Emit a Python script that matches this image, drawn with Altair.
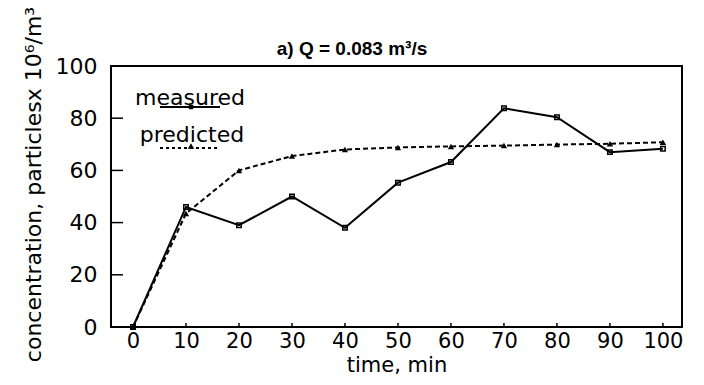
import altair as alt
import pandas as pd

time_min = [0, 10, 20, 30, 40, 50, 60, 70, 80, 90, 100]
measured = [0, 46, 39, 50, 38, 55.3, 63.2, 83.8, 80.4, 67.0, 68.3]
predicted = [0, 43.5, 60, 65.5, 68, 68.8, 69.2, 69.5, 69.9, 70.2, 70.8]
x_ticks = [0, 10, 20, 30, 40, 50, 60, 70, 80, 90, 100]
y_ticks = [0, 20, 40, 60, 80, 100]
title_text = ["a) Q = 0.083 m³/s"]

W, H = 571, 261
FONT = "DejaVu Sans"

df_m = pd.DataFrame({"t": time_min, "c": measured})
df_p = pd.DataFrame({"t": time_min, "c": predicted})

xs = alt.Scale(domain=[-4.15, 103.6], nice=False, zero=False)
ys = alt.Scale(domain=[0, 100], nice=False)

xax = alt.Axis(values=x_ticks, ticks=False, domain=False, grid=False,
               labelFontSize=21, labelFont=FONT, labelPadding=3, labelColor="black",
               labelFontWeight="normal",
               title="time, min", titleFontSize=21, titleFont=FONT,
               titleFontWeight="normal", titleColor="black", titlePadding=3)
yax = alt.Axis(values=y_ticks, ticks=False, domain=False, grid=False,
               labelFontSize=22, labelFont=FONT, labelPadding=14, labelColor="black",
               title="concentration,  particlesx 10⁶/m³", titleFontSize=22,
               titleFont=FONT, titleFontWeight="normal", titleColor="black",
               titleAngle=270, titleAlign="center", titleBaseline="middle",
               titleX=-78, titleY=118)

base_m = alt.Chart(df_m).encode(x=alt.X("t:Q", scale=xs, axis=xax),
                                y=alt.Y("c:Q", scale=ys, axis=yax))
line_m = base_m.mark_line(color="black", strokeWidth=2)
pts_m = base_m.mark_point(shape="square", size=20, filled=False, color="black",
                          strokeWidth=1.5, opacity=1)

base_p = alt.Chart(df_p).encode(x=alt.X("t:Q", scale=xs), y=alt.Y("c:Q", scale=ys))
line_p = base_p.mark_line(color="black", strokeWidth=2, strokeDash=[5, 3])
pts_p = base_p.mark_point(shape="triangle-up", size=40, filled=True, color="black",
                          opacity=1)

# inward tick marks
ytick_df = pd.DataFrame({"v": y_ticks[1:-1]})
yticks = alt.Chart(ytick_df).mark_rule(color="black", strokeWidth=1.5).encode(
    y=alt.Y("v:Q", scale=ys), x=alt.value(0), x2=alt.value(12))
xtick_df = pd.DataFrame({"v": x_ticks[1:]})
xticks = alt.Chart(xtick_df).mark_rule(color="black", strokeWidth=1.5).encode(
    x=alt.X("v:Q", scale=xs), y=alt.value(H), y2=alt.value(H - 4))

# title as text annotation
title = alt.Chart(pd.DataFrame({"s": title_text})).mark_text(
    fontSize=19, fontWeight="bold", font="Liberation Sans", align="center",
    baseline="alphabetic", color="black"
).encode(text="s:N", x=alt.value(241), y=alt.value(-11))

# in-plot legend
leg_labels = ["measured", "predicted"]
leg_text = alt.layer(
    alt.Chart(pd.DataFrame({"s": [leg_labels[0]]})).mark_text(
        fontSize=22, font=FONT, align="center", baseline="alphabetic", color="black"
    ).encode(text="s:N", x=alt.value(79), y=alt.value(39)),
    alt.Chart(pd.DataFrame({"s": [leg_labels[1]]})).mark_text(
        fontSize=22, font=FONT, align="center", baseline="alphabetic", color="black"
    ).encode(text="s:N", x=alt.value(81), y=alt.value(76)),
)
leg_line_m = alt.Chart(pd.DataFrame({"s": [leg_labels[0]]})).mark_rule(
    color="black", strokeWidth=2).encode(x=alt.value(49), x2=alt.value(109), y=alt.value(41))
leg_line_p = alt.Chart(pd.DataFrame({"s": [leg_labels[1]]})).mark_rule(
    color="black", strokeWidth=2, strokeDash=[3, 3]).encode(
    x=alt.value(49), x2=alt.value(109), y=alt.value(82))
leg_pt_m = alt.Chart(pd.DataFrame({"s": [leg_labels[0]]})).mark_point(
    shape="square", size=20, filled=True, color="black", opacity=1).encode(
    x=alt.value(80), y=alt.value(41))
leg_pt_p = alt.Chart(pd.DataFrame({"s": [leg_labels[1]]})).mark_point(
    shape="triangle-up", size=40, filled=True, color="black", opacity=1).encode(
    x=alt.value(80), y=alt.value(80))

chart = alt.layer(
    line_p, pts_p, line_m, pts_m, yticks, xticks, title,
    leg_text, leg_line_m, leg_line_p, leg_pt_m, leg_pt_p
).properties(
    width=W, height=H,
    padding={"left": 103, "top": 58, "right": 14, "bottom": 50},
    autosize=alt.AutoSizeParams(type="none"),
).configure(background="white").configure_view(stroke="black", strokeWidth=2)

chart.save("out.html", embed_options={"renderer": "svg", "actions": False})
